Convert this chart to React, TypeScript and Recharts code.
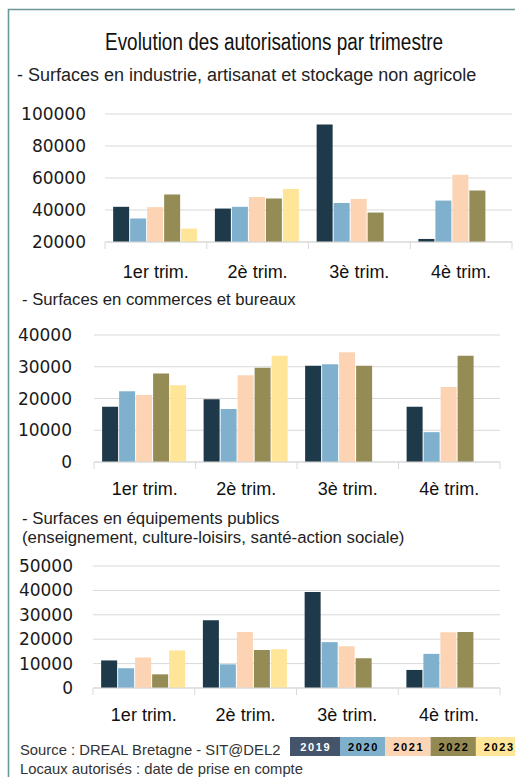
import React from 'react';
import { BarChart, Bar, XAxis, YAxis, CartesianGrid } from 'recharts';

const categories = ['1er trim.', '2è trim.', '3è trim.', '4è trim.'];
const years = ['2019', '2020', '2021', '2022', '2023'];
const barColors = ['#1e3949', '#7fb1cf', '#fcd3b3', '#958b54', '#fee597'];
const legendColors = ['#44546a', '#7eb0cc', '#fcd5b5', '#938953', '#ffe699'];
const legendTextColors = ['#ffffff', '#000000', '#000000', '#000000', '#000000'];

const industrie2019 = [42000, 40900, 93500, 21900];
const industrie2020 = [34700, 42000, 44400, 45900];
const industrie2021 = [41800, 48200, 46900, 62000];
const industrie2022 = [49700, 47200, 38400, 52200];
const industrie2023 = [28400, 53200, null, null];
const industrieTicks = [20000, 40000, 60000, 80000, 100000];

const commerces2019 = [17400, 19800, 30300, 17400];
const commerces2020 = [22300, 16700, 30800, 9400];
const commerces2021 = [21100, 27300, 34600, 23600];
const commerces2022 = [27900, 29700, 30300, 33500];
const commerces2023 = [24200, 33500, null, null];
const commercesTicks = [0, 10000, 20000, 30000, 40000];

const equip2019 = [11300, 27800, 39300, 7400];
const equip2020 = [8100, 9700, 18800, 14000];
const equip2021 = [12500, 22900, 17100, 22800];
const equip2022 = [5600, 15600, 12200, 22900];
const equip2023 = [15400, 15900, null, null];
const equipTicks = [0, 10000, 20000, 30000, 40000, 50000];

const buildRows = (series: (number | null)[][]) =>
  categories.map((cat, i) => {
    const row: any = { cat };
    years.forEach((y, k) => {
      row['y' + y] = series[k][i];
    });
    return row;
  });

const industrieData = buildRows([industrie2019, industrie2020, industrie2021, industrie2022, industrie2023]);
const commercesData = buildRows([commerces2019, commerces2020, commerces2021, commerces2022, commerces2023]);
const equipData = buildRows([equip2019, equip2020, equip2021, equip2022, equip2023]);

const GRID = '#d9d9d9';

const CatTick = (props: any) => {
  const { x, y, payload, index, labelDy } = props;
  const off = payload && payload.offset != null ? payload.offset : 0;
  const idx = index != null ? index : payload.index;
  return (
    <g>
      <line x1={x - off} x2={x - off} y1={y} y2={y + 7} stroke={GRID} strokeWidth={1} />
      {idx === categories.length - 1 && (
        <line x1={x + off} x2={x + off} y1={y} y2={y + 7} stroke={GRID} strokeWidth={1} />
      )}
      <text
        x={x}
        y={y + labelDy}
        textAnchor="middle"
        fontFamily="'Liberation Sans', Arial, sans-serif"
        fontSize={18}
        fill="#111"
      >
        {payload.value}
      </text>
    </g>
  );
};

type ChartProps = {
  data: any[];
  ticks: number[];
  top: number;
  height: number;
  marginTop: number;
  xAxisHeight: number;
  yWidth: number;
  right: number;
  tickMargin: number;
  labelDy: number;
};

const Chart = (p: ChartProps) => (
  <div style={{ position: 'absolute', left: 0, top: p.top }}>
    <BarChart
      width={515}
      height={p.height}
      data={p.data}
      margin={{ top: p.marginTop, right: p.right, left: 0, bottom: 0 }}
      barCategoryGap="8%"
      barGap={1}
    >
      <CartesianGrid vertical={false} stroke={GRID} strokeWidth={1} />
      <XAxis
        dataKey="cat"
        height={p.xAxisHeight}
        axisLine={{ stroke: GRID, strokeWidth: 1 }}
        tickLine={false}
        tickSize={0}
        tickMargin={0}
        interval={0}
        tick={(tp: any) => <CatTick {...tp} labelDy={p.labelDy} />}
      />
      <YAxis
        width={p.yWidth}
        domain={[p.ticks[0], p.ticks[p.ticks.length - 1]]}
        ticks={p.ticks}
        interval={0}
        axisLine={false}
        tickLine={false}
        tickSize={0}
        tickMargin={p.tickMargin}
        tick={{ fontFamily: "'DejaVu Sans', sans-serif", fontSize: 17, fill: '#1a1a1a' }}
      />
      {years.map((y, k) => (
        <Bar key={y} dataKey={'y' + y} fill={barColors[k]} isAnimationActive={false} />
      ))}
    </BarChart>
  </div>
);

export default function App() {
  const sans = "'Liberation Sans', Arial, sans-serif";
  return (
    <div
      style={{
        position: 'fixed',
        left: 0,
        top: 0,
        width: 515,
        height: 777,
        background: '#ffffff',
        overflow: 'hidden',
      }}
    >
      <svg width={515} height={777} style={{ position: 'absolute', left: 0, top: 0 }}>
        <path d="M8.5,777 L8.5,9.5 L515,9.5" fill="none" stroke="#6a9797" strokeWidth={1.6} />
        <text
          x={105}
          y={49.5}
          fontFamily="'Liberation Sans Narrow', 'Liberation Sans', sans-serif"
          fontSize={23}
          textLength={338}
          lengthAdjust="spacingAndGlyphs"
          fill="#111"
        >
          Evolution des autorisations par trimestre
        </text>
        <text x={17} y={81} fontFamily={sans} fontSize={18} fill="#222">
          - Surfaces en industrie, artisanat et stockage non agricole
        </text>
        <text x={22} y={305} fontFamily={sans} fontSize={16.7} fill="#222">
          - Surfaces en commerces et bureaux
        </text>
        <text x={22} y={524} fontFamily={sans} fontSize={16.8} fill="#222">
          - Surfaces en équipements publics
        </text>
        <text x={22} y={543} fontFamily={sans} fontSize={16.8} fill="#222">
          (enseignement, culture-loisirs, santé-action sociale)
        </text>
        <text x={20} y={754.5} fontFamily={sans} fontSize={14.8} fill="#333">
          Source : DREAL Bretagne - SIT@DEL2
        </text>
        <text x={20} y={773.5} fontFamily={sans} fontSize={14.8} fill="#333">
          Locaux autorisés : date de prise en compte
        </text>
        {years.map((y, k) => {
          const x0 = k === 0 ? 290 : 340 + (k - 1) * 45.3;
          const w = k === 0 ? 50 : k === years.length - 1 ? 50 : 45.3;
          return (
            <g key={y}>
              <rect x={x0} y={737} width={w} height={19} fill={legendColors[k]} />
              <text
                x={x0 + (k === years.length - 1 ? 22.5 : w / 2) + 0.8}
                y={750.6}
                textAnchor="middle"
                fontFamily={sans}
                fontWeight="bold"
                fontSize={11}
                letterSpacing={1.6}
                fill={legendTextColors[k]}
              >
                {y}
              </text>
            </g>
          );
        })}
      </svg>
      <Chart
        data={industrieData}
        ticks={industrieTicks}
        top={100}
        height={190}
        marginTop={14}
        xAxisHeight={48}
        yWidth={105}
        right={3}
        tickMargin={19}
        labelDy={36}
      />
      <Chart
        data={commercesData}
        ticks={commercesTicks}
        top={320}
        height={187}
        marginTop={15}
        xAxisHeight={45}
        yWidth={94}
        right={15}
        tickMargin={22}
        labelDy={33}
      />
      <Chart
        data={equipData}
        ticks={equipTicks}
        top={552}
        height={176}
        marginTop={14}
        xAxisHeight={40}
        yWidth={93}
        right={15}
        tickMargin={20}
        labelDy={33}
      />
    </div>
  );
}
